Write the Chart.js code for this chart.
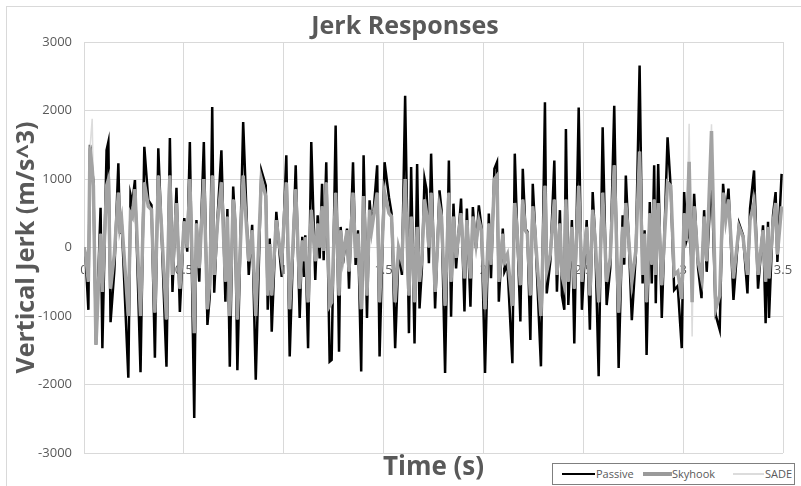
<!DOCTYPE html>
<html>
<head>
<meta charset="utf-8">
<script src="https://cdn.jsdelivr.net/npm/chart.js@4.4.1/dist/chart.umd.min.js"></script>
<style>
  body { margin: 0; background: #fff; }
  #wrap { position: relative; width: 801px; height: 486px; overflow: hidden; }
  #frame { position: absolute; left: 6px; top: 6px; width: 820px; height: 500px;
           border-left: 1px solid #d9d9d9; border-top: 1px solid #d9d9d9; }
  #legend { position: absolute; left: 552px; top: 463px; width: 241px; height: 20px;
            border: 1px solid #7f7f7f; background: #fff;
            font-family: 'Open Sans', sans-serif; font-size: 11px; color: #595959; }
  #legend span { position: absolute; top: 1px; line-height: 18px; }
  #legend i { position: absolute; top: 10px; display: block; }
</style>
</head>
<body>
<div id="wrap">
  <div id="frame"></div>
  <canvas id="jerkChart" width="801" height="486"></canvas>
  <div id="legend">
    <i style="left:9px;width:33px;border-top:2px solid #000;margin-top:-1px"></i><span style="left:43px">Passive</span>
    <i style="left:90px;width:29px;border-top:4px solid #9a9a9a;margin-top:-2px"></i><span style="left:119px">Skyhook</span>
    <i style="left:180px;width:31px;border-top:2px solid #dcdcdc;margin-top:-1px"></i><span style="left:212px">SADE</span>
  </div>
</div>
<script>
// time stamps (s) of the turning points
const times = [
  0.000, 0.008, 0.022, 0.030, 0.041, 0.047, 0.060, 0.083, 0.092, 0.113,
  0.122, 0.133, 0.152, 0.172, 0.180, 0.188, 0.222, 0.233, 0.242, 0.255,
  0.283, 0.302, 0.322, 0.338, 0.355, 0.372, 0.388, 0.413, 0.430, 0.443,
  0.463, 0.480, 0.502, 0.517, 0.530, 0.552, 0.563, 0.577, 0.600, 0.618,
  0.630, 0.642, 0.652, 0.668, 0.688, 0.708, 0.718, 0.730, 0.747, 0.757,
  0.768, 0.797, 0.825, 0.842, 0.860, 0.888, 0.910, 0.920, 0.930, 0.940,
  0.963, 0.980, 0.990, 1.013, 1.030, 1.060, 1.080, 1.093, 1.102, 1.108,
  1.122, 1.138, 1.158, 1.170, 1.180, 1.192, 1.200, 1.213, 1.230, 1.240,
  1.260, 1.277, 1.285, 1.297, 1.317, 1.327, 1.347, 1.360, 1.372, 1.388,
  1.400, 1.417, 1.430, 1.440, 1.450, 1.468, 1.480, 1.505, 1.527, 1.540,
  1.558, 1.575, 1.592, 1.608, 1.627, 1.638, 1.655, 1.668, 1.680, 1.692,
  1.705, 1.715, 1.727, 1.738, 1.758, 1.780, 1.790, 1.808, 1.827, 1.838,
  1.850, 1.863, 1.888, 1.905, 1.917, 1.935, 1.947, 1.963, 1.977, 1.990,
  2.008, 2.027, 2.038, 2.055, 2.068, 2.077, 2.097, 2.105, 2.120, 2.145,
  2.157, 2.167, 2.185, 2.197, 2.210, 2.220, 2.235, 2.247, 2.260, 2.288,
  2.308, 2.317, 2.335, 2.355, 2.368, 2.383, 2.393, 2.405, 2.413, 2.425,
  2.443, 2.455, 2.477, 2.493, 2.517, 2.533, 2.547, 2.560, 2.577, 2.597,
  2.617, 2.635, 2.655, 2.677, 2.697, 2.705, 2.713, 2.728, 2.743, 2.763,
  2.782, 2.797, 2.807, 2.817, 2.833, 2.843, 2.855, 2.863, 2.875, 2.893,
  2.922, 2.938, 2.955, 2.973, 2.993, 3.005, 3.017, 3.030, 3.045, 3.055,
  3.075, 3.092, 3.105, 3.118, 3.142, 3.163, 3.183, 3.200, 3.213, 3.227,
  3.252, 3.280, 3.300, 3.322, 3.335, 3.355, 3.375, 3.400, 3.413, 3.425,
  3.430, 3.450, 3.463, 3.472, 3.493
];

const passive = [
  0, -150, -910, 1500, 1150, 950, -1420, 580, -1470, 1420,
  1540, -1090, -330, 1230, 200, 430, -1900, 770, 650, 985,
  -1820, 1470, 690, 620, -1610, 1450, 240, -1740, 1600, -650,
  870, -940, 430, -60, 1540, -2490, 400, -500, 1540, -1130,
  -700, 2050, -660, 400, 1420, -790, 560, -1740, 890, 330,
  -1790, 1830, -400, 330, -1930, 1125, 905, -910, 130, -1230,
  520, -110, -430, 1345, -1590, 1200, -1030, 155, -430, 180,
  -1470, 1540, -475, 470, -160, 930, -185, 1245, -1665, -1640,
  1780, -1520, 300, -230, 275, -600, 1245, -255, 250, -1810,
  1345, -1030, 690, 300, 520, 1200, -1590, 1245, 735, 500,
  -1470, -65, -400, 2215, -1250, 1175, -1400, 1220, -890, -300,
  1005, 850, -230, 1370, -890, 835, 550, -1830, 1270, -1010,
  640, -305, 715, -935, 570, -865, 590, -15, 615, 300,
  -1830, 495, -450, 1150, 1245, -790, 275, -355, -250, -1690,
  1370, 420, -1080, 1150, 275, 230, -1350, 930, 180, -1735,
  2120, -670, -200, 1270, -645, 545, -700, -910, 1730, -840,
  400, -1400, 2045, -910, 400, -1200, 810, 80, -1880, 1755,
  -840, -300, 2070, -1760, 470, -250, 1050, 80, -1060, -100,
  2655, -525, 250, -1570, 665, -525, 1200, -815, 1220, -1030,
  1610, 860, -620, -560, -1470, 810, 105, 250, -300, 785,
  -305, -740, 545, -355, 1100, -985, -1200, 930, 455, 860,
  -765, 350, 180, -670, 570, 1125, -600, 325, -1105, 375,
  -1030, 470, 810, -210, 1075
];

const skyhook = [
  0, -100, -500, 1450, 1150, 900, -1420, 200, -650, 900,
  990, -600, -100, 800, 300, 420, -1000, 500, 450, 850,
  -1000, 950, 600, 550, -950, 1050, 300, -1050, 1050, -400,
  650, -600, 380, 0, 1000, -1250, 350, -300, 1000, -900,
  -500, 1050, -400, 350, 950, -500, 450, -1000, 700, 400,
  -1050, 1050, -200, 250, -1000, 1000, 750, -700, 50, -700,
  400, 0, -200, 950, -900, 850, -600, 100, -200, 150,
  -800, 550, -200, 350, 0, 600, -50, 950, -850, -800,
  800, -700, 250, -150, 250, -350, 800, -150, 200, -900,
  750, -700, 550, 250, 450, 800, -800, 800, 500, 450,
  -800, 0, -200, 1000, -700, 450, -800, 300, -500, -150,
  700, 500, 0, 800, -650, 600, 450, -850, 800, -500,
  450, -150, 500, -450, 400, -450, 450, 50, 400, 250,
  -900, 350, -250, 1000, 1050, -500, 200, -200, -100, -850,
  650, 300, -550, 700, 250, 200, -700, 600, 150, -1000,
  900, -350, -100, 700, -400, 350, -400, -550, 700, -500,
  300, -600, 900, -500, 300, -700, 550, 100, -800, 800,
  -500, -150, 1200, -950, 300, -150, 650, 100, -500, -50,
  1400, -400, 200, -800, 500, -250, 700, -400, 650, -550,
  950, 900, -400, -350, -750, 500, 100, 1250, -800, 600,
  -200, -450, 450, -200, 1700, -900, -700, 800, 400, 700,
  -450, 300, 150, -400, 400, 650, -400, 250, -500, 300,
  -450, 350, 650, -100, 600
];

const sade = [
  0, -100, -500, 1450, 1880, 900, -1420, 200, -650, 900,
  990, -600, -100, 800, 300, 420, -1000, 500, 450, 850,
  -1000, 950, 600, 550, -950, 1050, 300, -1050, 1050, -400,
  650, -600, 380, 0, 1000, -1000, 350, -300, 1000, -900,
  -500, 1050, -400, 350, 950, -500, 450, -1000, 700, 400,
  -1050, 1050, -200, 250, -1000, 1000, 750, -700, 50, -700,
  400, 0, -200, 950, -900, 850, -600, 100, -200, 150,
  -800, 550, -200, 350, 0, 600, -50, 950, -850, -800,
  800, -700, 250, -150, 250, -350, 800, -150, 200, -900,
  750, -700, 550, 250, 450, 800, -800, 800, 500, 450,
  -800, 0, -200, 1000, -700, 450, -800, 300, -500, -150,
  700, 500, 0, 800, -650, 600, 450, -850, 800, -500,
  450, -150, 500, -450, 400, -450, 450, 50, 400, 250,
  -900, 350, -250, 1000, 1050, -500, 200, -200, -100, -850,
  650, 300, -550, 700, 250, 200, -700, 600, 150, -1000,
  900, -350, -100, 700, -400, 350, -400, -550, 700, -500,
  300, -600, 900, -500, 300, -700, 550, 100, -800, 800,
  -500, -150, 1200, -950, 300, -150, 650, 100, -500, -50,
  1400, -400, 200, -800, 500, -250, 700, -400, 650, -550,
  950, 900, -400, -350, -750, 500, 100, 1805, -1300, 600,
  -200, -450, 450, -200, 1800, -900, -700, 800, 400, 700,
  -450, 300, 150, -400, 400, 650, -400, 250, -500, 300,
  -450, 350, 650, -100, 600
];

const xTicks = [0, 0.5, 1, 1.5, 2, 2.5, 3, 3.5];
const yTicks = [-3000, -2000, -1000, 0, 1000, 2000, 3000];

const grey = '#595959';
const gridGrey = '#d9d9d9';
Chart.defaults.font.family = "'Open Sans', sans-serif";

function pts(values) {
  return times.map((t, i) => ({ x: t, y: values[i] }));
}

const ctx = document.getElementById('jerkChart').getContext('2d');
new Chart(ctx, {
  type: 'line',
  data: {
    datasets: [
      { label: 'Passive', data: pts(passive), borderColor: '#000', borderWidth: 2.5, order: 3 },
      { label: 'Skyhook', data: pts(skyhook), borderColor: '#a3a3a3', borderWidth: 3.5, order: 1 },
      { label: 'SADE', data: pts(sade), borderColor: '#dcdcdc', borderWidth: 1.5, order: 2 }
    ]
  },
  options: {
    responsive: false,
    animation: false,
    devicePixelRatio: 1,
    elements: { point: { radius: 0 }, line: { tension: 0 } },
    layout: { padding: { left: 27, right: 18, top: 0, bottom: 0 } },
    plugins: {
      legend: { display: false },
      tooltip: { enabled: false },
      title: {
        display: true,
        text: 'Jerk Responses',
        color: grey,
        font: { size: 25, weight: 'bold' },
        padding: { top: 12, bottom: 0 }
      }
    },
    scales: {
      x: {
        type: 'linear',
        min: 0, max: 3.5,
        position: { y: 0 },
        afterBuildTicks: s => { s.ticks = xTicks.map(v => ({ value: v })); },
        afterFit: s => { s.paddingLeft = 0; s.paddingRight = 0; },
        ticks: { padding: 15, color: grey, font: { size: 13 }, maxRotation: 0, callback: v => String(v) },
        grid: { color: gridGrey, drawTicks: false },
        border: { display: false }
      },
      xTitle: {
        type: 'linear',
        position: 'bottom',
        ticks: { display: false },
        grid: { display: false },
        border: { display: false },
        title: {
          display: true, text: 'Time (s)', color: grey,
          font: { size: 26, weight: 'bold' }, padding: { top: 0, bottom: 3 }
        },
        afterFit: s => { s.height = 33; s.paddingLeft = 0; s.paddingRight = 0; }
      },
      y: {
        min: -3000, max: 3000,
        afterBuildTicks: s => { s.ticks = yTicks.map(v => ({ value: v })); },
        ticks: { padding: 12, color: grey, font: { size: 13 }, callback: v => String(v) },
        grid: { color: gridGrey, drawTicks: false },
        border: { color: gridGrey },
        title: {
          display: true, text: 'Vertical Jerk (m/s^3)', color: grey,
          font: { size: 25, weight: 'bold' }, padding: { top: -15, bottom: 0 }
        },
        afterFit: s => { s.width = 57; }
      }
    }
  }
});
</script>
</body>
</html>
